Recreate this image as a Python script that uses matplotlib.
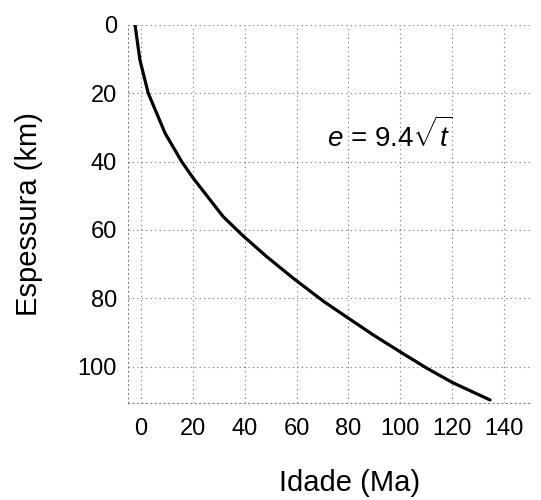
import numpy as np
import matplotlib
matplotlib.use("Agg")
import matplotlib.pyplot as plt

# Espessura da litosfera oceanica vs idade (curva e = 9.4*sqrt(t))
Idade = [-2.3, -0.4, 2.8, 9.3, 15.7, 20.2, 31.7, 39.5, 48.5, 58.7, 70.3, 80.0, 89.6, 99.9, 110.2, 120.1, 134.6]
Espessura = [0.0, 10.3, 20.0, 31.7, 40.0, 44.9, 56.1, 61.8, 67.8, 74.1, 80.8, 85.8, 90.7, 95.6, 100.4, 104.6, 109.7]

XTicks = [0, 20, 40, 60, 80, 100, 120, 140]
YTicks = [0, 20, 40, 60, 80, 100]

plt.rcParams["font.family"] = ["Liberation Sans", "DejaVu Sans"]
plt.rcParams["mathtext.fontset"] = "custom"
plt.rcParams["mathtext.rm"] = "Liberation Sans"
plt.rcParams["mathtext.it"] = "Liberation Sans:italic"

fig = plt.figure(figsize=(5.41, 5.0), dpi=100)
ax = fig.add_axes([0.2366, 0.1946, 0.743, 0.7558])

ax.plot(Idade, Espessura, "-", color="black", linewidth=2.3,
        solid_capstyle="round", solid_joinstyle="round")

ax.set_xlim(-5, 150)
ax.set_ylim(110.5, 0)
ax.set_xticks(XTicks)
ax.set_yticks(YTicks)
ax.tick_params(axis="both", length=0, labelsize=17)
ax.tick_params(axis="x", pad=11)
ax.tick_params(axis="y", pad=8)
for side in ["top", "right"]:
      ax.spines[side].set_visible(False)
for side in ["left", "bottom"]:
      ax.spines[side].set_linestyle((0, (1, 3)))
      ax.spines[side].set_color("0.5")
      ax.spines[side].set_linewidth(0.8)
ax.grid(True, linestyle=(0, (1, 3)), color="0.45", linewidth=0.8)

ax.text(96.0, 35.7, r"$e$ = 9.4$\sqrt{t}$", fontsize=20, ha="center", va="baseline")

ax.set_xlabel("Idade (Ma)", fontsize=21, va="center")
ax.set_ylabel("Espessura (km)", fontsize=21, va="center")
ax.xaxis.set_label_coords(0.552, -0.212)
ax.yaxis.set_label_coords(-0.246, 0.5)

plt.savefig("out.png", dpi=100)
plt.close()
